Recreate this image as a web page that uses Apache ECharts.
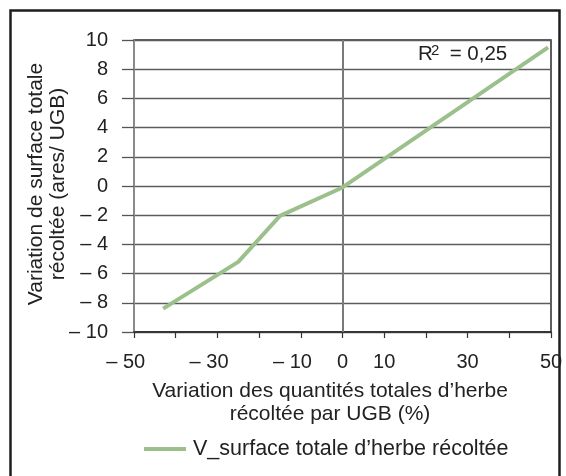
<!DOCTYPE html>
<html>
<head>
<meta charset="utf-8">
<script src="https://cdn.jsdelivr.net/npm/echarts@6/dist/echarts.min.js"></script>
<style>
html,body{margin:0;padding:0;background:#fff;}
#c{width:566px;height:476px;}
</style>
</head>
<body>
<div id="c"></div>
<script>
// Data
var xValues = [-43, -25, -15, 0, 49.3];
var yValues = [-8.4, -5.2, -2.05, -0.1, 9.5];
var xTickLabels = [-50, -30, -10, 0, 10, 30, 50];
var seriesName = 'V_surface totale d\u2019herbe récoltée';
var xAxisTitle = 'Variation des quantités totales d\u2019herbe\nrécoltée par UGB (%)';
var yAxisTitle = 'Variation de surface totale\nrécoltée (ares/ UGB)';
var rSquared = '0,25';

var FONT = 'Liberation Sans, Arial, sans-serif';
var chart = echarts.init(document.getElementById('c'));

var points = xValues.map(function (x, i) { return [x, yValues[i]]; });

function fmtNeg(v) {
  if (v < 0) return '\u2013 ' + Math.abs(v);
  return String(v);
}

chart.setOption({
  animation: false,
  backgroundColor: '#fff',
  grid: {
    left: 134, right: 15, top: 40, bottom: 144,
    show: true, borderColor: '#2a2a2a', borderWidth: 1.5, backgroundColor: 'transparent'
  },
  xAxis: {
    type: 'value', min: -50, max: 50, interval: 10,
    axisLine: { show: true, onZero: false, lineStyle: { color: '#2a2a2a', width: 1.5 } },
    axisTick: { show: true, length: 6, lineStyle: { color: '#333', width: 1.2 } },
    splitLine: { show: false },
    axisLabel: {
      margin: 20,
      fontFamily: FONT, fontSize: 20, color: '#222',
      formatter: function (v) {
        if (xTickLabels.indexOf(v) < 0) return '';
        if (v < 0) return '{h|\u2013 }' + Math.abs(v) + '{t|\u2013 }';
        return String(v);
      },
      rich: {
        h: { fontFamily: FONT, fontSize: 20, color: '#222' },
        t: { fontFamily: FONT, fontSize: 20, color: 'rgba(0,0,0,0)' }
      }
    }
  },
  yAxis: {
    type: 'value', min: -10, max: 10, interval: 2,
    axisLine: { show: true, onZero: false, lineStyle: { color: '#8a8a8a', width: 2 } },
    axisTick: { show: true, length: 12, lineStyle: { color: '#555', width: 1.3 } },
    splitLine: { show: true, lineStyle: { color: '#5c5c5c', width: 1.3 } },
    axisLabel: {
      margin: 26, fontFamily: FONT, fontSize: 20, color: '#222',
      formatter: fmtNeg
    }
  },
  legend: {
    show: true,
    left: 144, top: 438,
    padding: 0,
    icon: 'rect',
    itemWidth: 42, itemHeight: 4,
    itemGap: 10,
    textStyle: { fontFamily: FONT, fontSize: 21.5, color: '#222', padding: [0, 0, 0, 2] },
    data: [seriesName]
  },
  graphic: [
    {
      type: 'rect', left: 8, top: 8, silent: true,
      shape: { width: 549, height: 500 },
      style: { fill: 'none', stroke: '#1e1e1e', lineWidth: 2.5 }
    },
    {
      type: 'text', x: 330, y: 380,
      style: { text: xAxisTitle, fontFamily: FONT, fontSize: 21, fill: '#222', textAlign: 'center', textVerticalAlign: 'top', lineHeight: 23 }
    },
    {
      type: 'text', x: 47, y: 184, rotation: Math.PI / 2,
      style: { text: yAxisTitle, fontFamily: FONT, fontSize: 21, fill: '#222', textAlign: 'center', textVerticalAlign: 'middle', lineHeight: 22 }
    },
    {
      type: 'text', x: 418, y: 65,
      style: { text: 'R', fontFamily: FONT, fontSize: 20.5, fill: '#222', textAlign: 'left', textVerticalAlign: 'bottom' }
    },
    {
      type: 'text', x: 431, y: 58,
      style: { text: '2', fontFamily: FONT, fontSize: 15, fill: '#222', textAlign: 'left', textVerticalAlign: 'bottom' }
    },
    {
      type: 'text', x: 444, y: 65,
      style: { text: ' = ' + rSquared, fontFamily: FONT, fontSize: 20.5, fill: '#222', textAlign: 'left', textVerticalAlign: 'bottom' }
    }
  ],
  series: [
    {
      name: seriesName,
      type: 'line',
      data: points,
      showSymbol: false,
      symbol: 'none',
      smooth: false,
      lineStyle: { color: '#9cc08c', width: 4 },
      itemStyle: { color: '#9cc08c' },
      markLine: {
        silent: true, symbol: 'none', label: { show: false },
        lineStyle: { color: '#7a7a7a', width: 2, type: 'solid' },
        data: [{ xAxis: 0 }],
        z: 1
      },
      z: 3
    }
  ]
});
</script>
</body>
</html>
